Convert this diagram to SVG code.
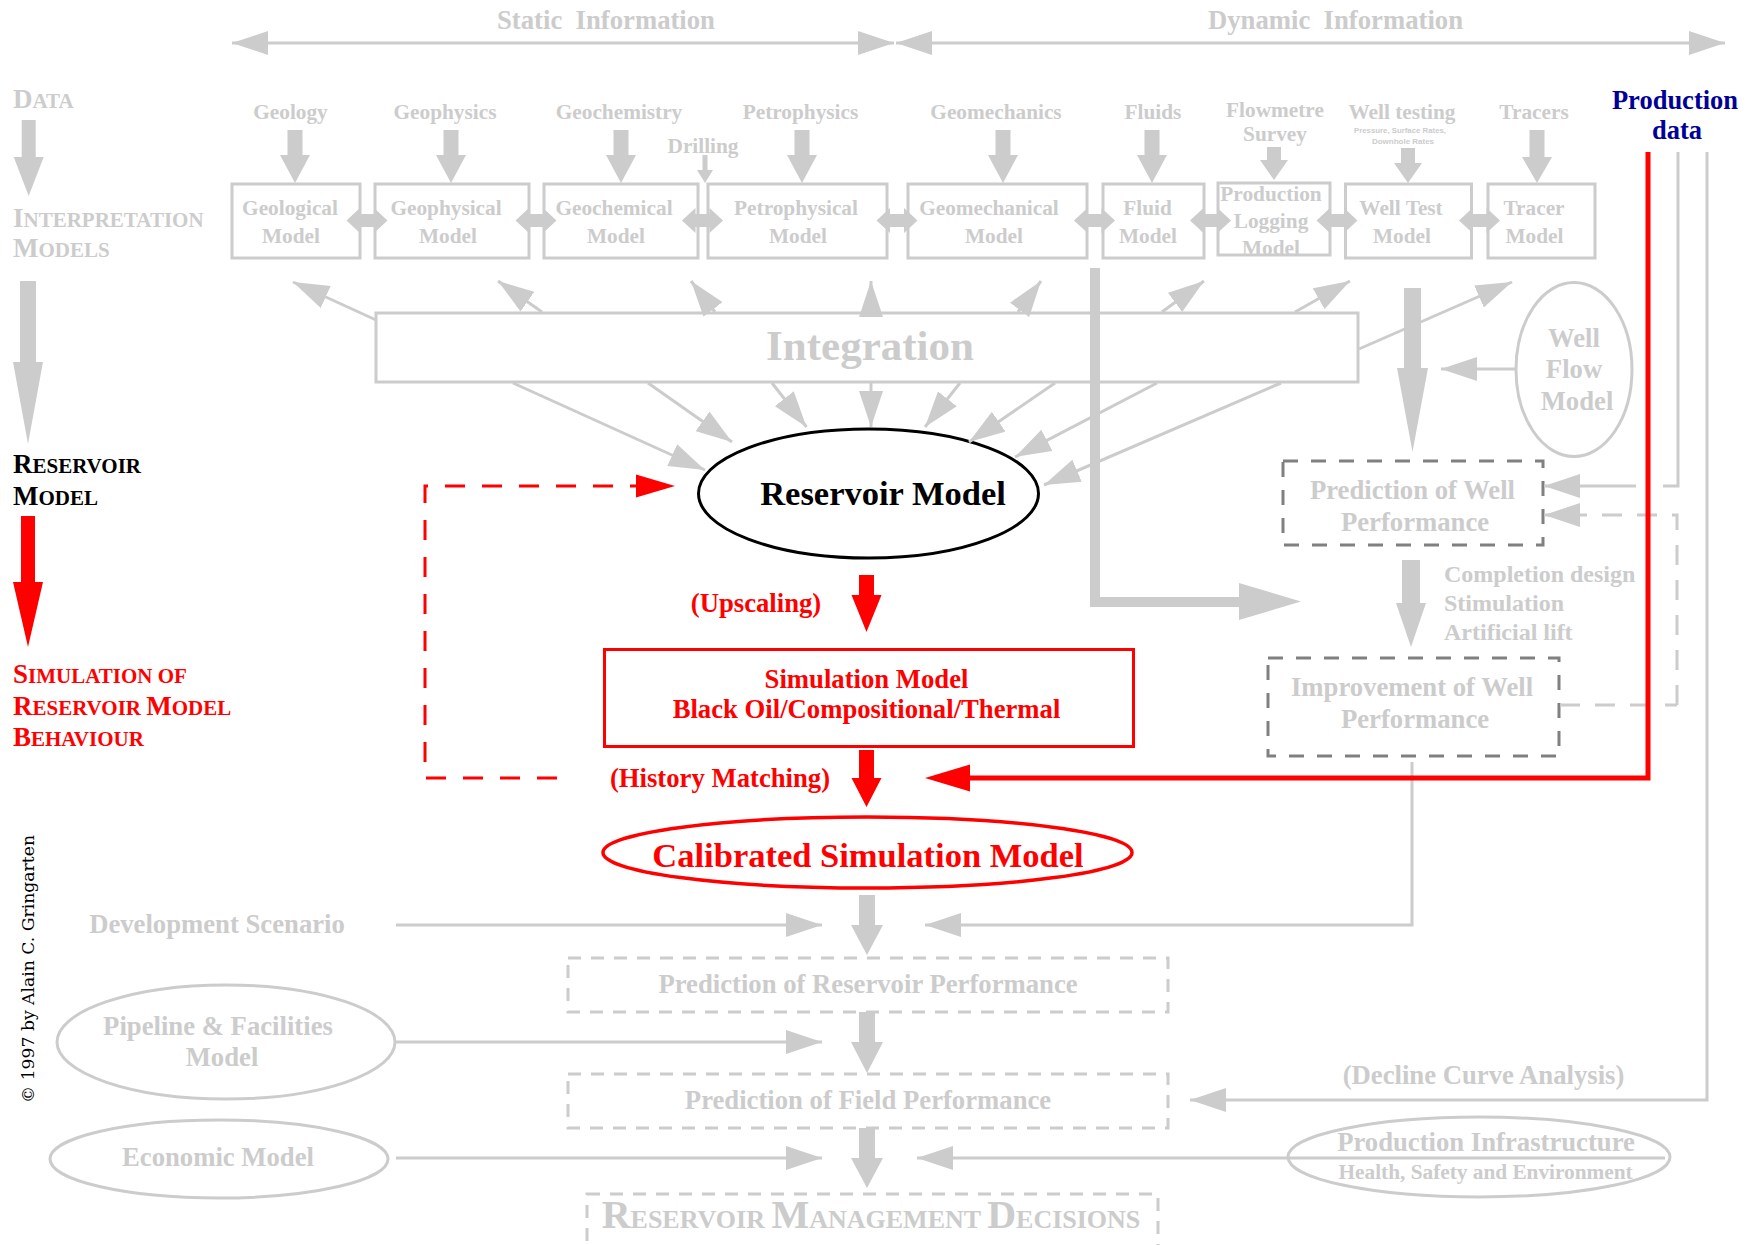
<svg xmlns="http://www.w3.org/2000/svg" width="1757" height="1245" viewBox="0 0 1757 1245">
<style>
  text { font-family: 'Liberation Serif', 'Times New Roman', serif; font-weight: bold; }
  .c { text-anchor: middle; }
  .g { fill: #cccccc; }
  .r { fill: #ff0000; }
  .k { fill: #000000; }
  .n { fill: #000099; }
  .s21 { font-size: 21.3px; }
  .s24 { font-size: 24px; }
  .s27 { font-size: 26.7px; }
  .s34 { font-size: 34.5px; }
  .box { fill: none; stroke: #cccccc; stroke-width: 3; }
  .dbox { fill: none; stroke: #808080; stroke-width: 3; stroke-dasharray: 15 13; }
  .lbox { fill: none; stroke: #cccccc; stroke-width: 3; stroke-dasharray: 13 10; }
  .ell { fill: none; stroke: #cccccc; stroke-width: 3; }
  .ln { fill: none; stroke: #cccccc; stroke-width: 3; }
  .arr { marker-end: url(#ag); }
  .dash { stroke-dasharray: 20 15; }
  .blk { fill: #cccccc; }
  .rblk { fill: #ff0000; }
</style>
<defs>
  <marker id="ag" markerUnits="userSpaceOnUse" viewBox="0 0 36 24" refX="36" refY="12" markerWidth="36" markerHeight="24" orient="auto-start-reverse">
    <path d="M0,0 L36,12 L0,24 Z" fill="#cccccc"/>
  </marker>
  <path id="dbl" d="M-20.5,0 L-7,-12.5 L-7,-6.5 L7,-6.5 L7,-12.5 L20.5,0 L7,12.5 L7,6.5 L-7,6.5 L-7,12.5 Z" fill="#cccccc"/>
</defs>

<rect width="1757" height="1245" fill="#ffffff"/>

<!-- header -->
<g id="static-info">
  <text class="c g s27" x="606" y="29" xml:space="preserve" style="white-space:pre">Static  Information</text>
</g>
<g id="dynamic-info">
  <text class="c g s27" x="1335.5" y="29" xml:space="preserve" style="white-space:pre">Dynamic  Information</text>
</g>

<!-- left column stages -->
<g id="stage-data">
  <text class="g" x="13" y="108"><tspan font-size="27">D</tspan><tspan font-size="21">ATA</tspan></text>
</g>
<g id="stage-interpretation">
  <text class="g" x="13" y="227"><tspan font-size="27">I</tspan><tspan font-size="21">NTERPRETATION</tspan></text>
  <text class="g" x="13" y="257"><tspan font-size="27">M</tspan><tspan font-size="21">ODELS</tspan></text>
</g>
<g id="stage-reservoir">
  <text class="k" x="13" y="473"><tspan font-size="27">R</tspan><tspan font-size="21">ESERVOIR</tspan></text>
  <text class="k" x="13" y="505"><tspan font-size="27">M</tspan><tspan font-size="21">ODEL</tspan></text>
</g>
<g id="stage-simulation">
  <text class="r" x="13" y="683"><tspan font-size="27">S</tspan><tspan font-size="21">IMULATION OF</tspan></text>
  <text class="r" x="13" y="714.5"><tspan font-size="27">R</tspan><tspan font-size="21">ESERVOIR </tspan><tspan font-size="27">M</tspan><tspan font-size="21">ODEL</tspan></text>
  <text class="r" x="13" y="746"><tspan font-size="27">B</tspan><tspan font-size="21">EHAVIOUR</tspan></text>
</g>
<g id="copyright">
  <text transform="translate(34,1103) rotate(-90)" style="font-family:'DejaVu Serif','Liberation Serif',serif;font-weight:normal;font-size:17px" fill="#000000" textLength="268" lengthAdjust="spacingAndGlyphs">© 1997 by Alain C. Gringarten</text>
</g>

<!-- data sources -->
<g id="data-geology"><text class="c g s21" x="290.5" y="119">Geology</text></g>
<g id="data-geophysics"><text class="c g s21" x="445" y="119">Geophysics</text></g>
<g id="data-geochemistry"><text class="c g s21" x="619" y="119">Geochemistry</text></g>
<g id="data-drilling"><text class="c g s21" x="703" y="152.5">Drilling</text></g>
<g id="data-petrophysics"><text class="c g s21" x="800.5" y="119">Petrophysics</text></g>
<g id="data-geomechanics"><text class="c g s21" x="996" y="119">Geomechanics</text></g>
<g id="data-fluids"><text class="c g s21" x="1153" y="119">Fluids</text></g>
<g id="data-flowmetre">
  <text class="c g s21" x="1275" y="116.5">Flowmetre</text>
  <text class="c g s21" x="1275" y="141">Survey</text>
</g>
<g id="data-well-testing">
  <text class="c g s21" x="1402" y="119">Well testing</text>
  <text class="c g" x="1400" y="133" style="font-family:'Liberation Sans',sans-serif;font-size:8px" textLength="92" lengthAdjust="spacingAndGlyphs">Pressure, Surface Rates,</text>
  <text class="c g" x="1403" y="143.5" style="font-family:'Liberation Sans',sans-serif;font-size:8px" textLength="62" lengthAdjust="spacingAndGlyphs">Downhole Rates</text>
</g>
<g id="data-tracers"><text class="c g s21" x="1534" y="119">Tracers</text></g>
<g id="production-data">
  <text class="c n" x="1675" y="109.3" font-size="26.5">Production</text>
  <text class="c n" x="1677" y="139" font-size="26.5">data</text>
</g>

<!-- interpretation models -->
<g id="geological-model">
  <rect class="box" x="232" y="184" width="128" height="74"/>
  <text class="c g s21" x="290" y="215">Geological</text>
  <text class="c g s21" x="291" y="242.7">Model</text>
</g>
<g id="geophysical-model">
  <rect class="box" x="375" y="184" width="154" height="74"/>
  <text class="c g s21" x="446" y="215">Geophysical</text>
  <text class="c g s21" x="448" y="242.7">Model</text>
</g>
<g id="geochemical-model">
  <rect class="box" x="544" y="184" width="154" height="74"/>
  <text class="c g s21" x="614" y="215">Geochemical</text>
  <text class="c g s21" x="616" y="242.7">Model</text>
</g>
<g id="petrophysical-model">
  <rect class="box" x="708" y="184" width="179" height="74"/>
  <text class="c g s21" x="796" y="215">Petrophysical</text>
  <text class="c g s21" x="798" y="242.7">Model</text>
</g>
<g id="geomechanical-model">
  <rect class="box" x="908" y="184" width="179" height="74"/>
  <text class="c g s21" x="989" y="215">Geomechanical</text>
  <text class="c g s21" x="994" y="242.7">Model</text>
</g>
<g id="fluid-model">
  <rect class="box" x="1103" y="184" width="101" height="74"/>
  <text class="c g s21" x="1147.5" y="215">Fluid</text>
  <text class="c g s21" x="1148" y="242.7">Model</text>
</g>
<g id="production-logging-model">
  <rect class="box" x="1218" y="183" width="112" height="72"/>
  <text class="c g s21" x="1271" y="201">Production</text>
  <text class="c g s21" x="1271" y="227.5">Logging</text>
  <text class="c g s21" x="1271" y="255">Model</text>
</g>
<g id="well-test-model">
  <rect class="box" x="1345.5" y="184" width="126" height="74"/>
  <text class="c g s21" x="1401" y="215">Well Test</text>
  <text class="c g s21" x="1402" y="242.7">Model</text>
</g>
<g id="tracer-model">
  <rect class="box" x="1488" y="184" width="107" height="74"/>
  <text class="c g s21" x="1534" y="215">Tracer</text>
  <text class="c g s21" x="1534.5" y="242.7">Model</text>
</g>

<!-- integration and reservoir model -->
<g id="integration">
  <rect class="box" x="376" y="313" width="982" height="69" fill="none"/>
  <text class="c g" x="870" y="360" font-size="43">Integration</text>
</g>
<g id="well-flow-model">
  <ellipse class="ell" cx="1574" cy="369.5" rx="58" ry="87"/>
  <text class="c g s27" x="1574" y="347">Well</text>
  <text class="c g s27" x="1574" y="378">Flow</text>
  <text class="c g s27" x="1577" y="409.5">Model</text>
</g>
<g id="reservoir-model">
  <ellipse cx="868.5" cy="493.5" rx="170" ry="64.5" fill="#ffffff" stroke="#000000" stroke-width="3"/>
  <text class="c k s34" x="883" y="505">Reservoir Model</text>
</g>
<g id="prediction-well">
  <rect class="dbox" x="1283" y="461" width="260" height="84"/>
  <text class="c g s27" x="1412.5" y="499.3">Prediction of Well</text>
  <text class="c g s27" x="1415" y="530.7">Performance</text>
</g>
<g id="well-actions">
  <text class="g s24" x="1444" y="582">Completion design</text>
  <text class="g s24" x="1444" y="611">Stimulation</text>
  <text class="g s24" x="1444" y="640">Artificial lift</text>
</g>
<g id="improvement-well">
  <rect class="dbox" x="1268" y="658" width="291" height="98"/>
  <text class="c g s27" x="1412" y="696">Improvement of Well</text>
  <text class="c g s27" x="1415" y="728">Performance</text>
</g>

<!-- simulation -->
<g id="upscaling-label"><text class="c r s27" x="756" y="611.7">(Upscaling)</text></g>
<g id="simulation-model">
  <rect x="604.5" y="649.5" width="529" height="97" fill="none" stroke="#ff0000" stroke-width="3"/>
  <text class="c r s27" x="866.5" y="688">Simulation Model</text>
  <text class="c r s27" x="866.5" y="718">Black Oil/Compositional/Thermal</text>
</g>
<g id="history-label"><text class="c r s27" x="720" y="787">(History Matching)</text></g>
<g id="calibrated-model">
  <ellipse cx="867.5" cy="852.5" rx="264.5" ry="35.5" fill="none" stroke="#ff0000" stroke-width="3.5"/>
  <text class="c r s34" x="868" y="867">Calibrated Simulation Model</text>
</g>

<!-- forecasting chain -->
<g id="development-scenario"><text class="c g s27" x="217" y="933">Development Scenario</text></g>
<g id="prediction-reservoir">
  <rect class="lbox" x="568" y="958" width="600" height="54"/>
  <text class="c g s27" x="868" y="992.7">Prediction of Reservoir Performance</text>
</g>
<g id="pipeline-facilities">
  <ellipse class="ell" cx="226" cy="1042" rx="169" ry="57"/>
  <text class="c g s27" x="218" y="1034.5">Pipeline &amp; Facilities</text>
  <text class="c g s27" x="222" y="1066">Model</text>
</g>
<g id="prediction-field">
  <rect class="lbox" x="568" y="1074" width="600" height="54"/>
  <text class="c g s27" x="868" y="1109.4">Prediction of Field Performance</text>
</g>
<g id="decline-label"><text class="c g s27" x="1483.5" y="1084">(Decline Curve Analysis)</text></g>
<g id="economic-model">
  <ellipse class="ell" cx="219" cy="1159" rx="169" ry="39"/>
  <text class="c g s27" x="218" y="1166">Economic Model</text>
</g>
<g id="production-infrastructure">
  <ellipse class="ell" cx="1479" cy="1157" rx="191" ry="40"/>
  <text class="c g s27" x="1486" y="1151">Production Infrastructure</text>
  <text class="c g s21" x="1485.6" y="1179">Health, Safety and Environment</text>
</g>
<g id="management-decisions">
  <rect class="lbox" x="587" y="1194" width="571" height="62"/>
  <text class="c g" x="871" y="1228"><tspan font-size="40">R</tspan><tspan font-size="26">ESERVOIR </tspan><tspan font-size="40">M</tspan><tspan font-size="26">ANAGEMENT </tspan><tspan font-size="40">D</tspan><tspan font-size="26">ECISIONS</tspan></text>
</g>

<!-- connectors -->
<g id="connectors">
  <!-- information span arrows -->
  <path class="ln" d="M232,43 H894" marker-start="url(#ag)" marker-end="url(#ag)"/>
  <path class="ln" d="M896,43 H1725" marker-start="url(#ag)" marker-end="url(#ag)"/>

  <!-- stage arrows, left column -->
  <polygon class="blk" points="21.7,120 35.7,120 35.7,157 43.7,157 28.7,196 13.7,157 21.7,157"/>
  <polygon class="blk" points="20,281 36,281 36,362 43,362 28,444 13,362 20,362"/>
  <polygon class="rblk" points="21,516 35,516 35,582 43,582 28,647 13,582 21,582"/>

  <!-- data to models -->
  <polygon class="blk" points="287.5,130 302.5,130 302.5,155 310,155 295,183 280,155 287.5,155"/>
  <polygon class="blk" points="443.5,130 458.5,130 458.5,155 466,155 451,183 436,155 443.5,155"/>
  <polygon class="blk" points="613.5,130 628.5,130 628.5,155 636,155 621,183 606,155 613.5,155"/>
  <polygon class="blk" points="702.5,155 707.5,155 707.5,170 713,170 705,183 697,170 702.5,170"/>
  <polygon class="blk" points="794.5,130 809.5,130 809.5,155 817,155 802,183 787,155 794.5,155"/>
  <polygon class="blk" points="995.5,130 1010.5,130 1010.5,155 1018,155 1003,183 988,155 995.5,155"/>
  <polygon class="blk" points="1144.5,130 1159.5,130 1159.5,155 1167,155 1152,183 1137,155 1144.5,155"/>
  <polygon class="blk" points="1267,147 1281,147 1281,160 1288,160 1274,180 1260,160 1267,160"/>
  <polygon class="blk" points="1401,148 1415,148 1415,163 1422,163 1408,183 1394,163 1401,163"/>
  <polygon class="blk" points="1529.5,130 1544.5,130 1544.5,157 1552,157 1537,183 1522,157 1529.5,157"/>

  <!-- links between interpretation models -->
  <use href="#dbl" x="367" y="220.5"/>
  <use href="#dbl" x="536" y="220.5"/>
  <use href="#dbl" x="702.5" y="220.5"/>
  <use href="#dbl" x="897" y="220.5"/>
  <use href="#dbl" x="1094.5" y="220.5"/>
  <use href="#dbl" x="1210.5" y="220.5"/>
  <use href="#dbl" x="1337" y="220.5"/>
  <use href="#dbl" x="1479.5" y="220.5"/>

  <!-- integration feedback up to models -->
  <path class="ln arr" d="M376,320 L293,282"/>
  <path class="ln arr" d="M542,312 L498,281"/>
  <path class="ln arr" d="M715,312 L691,281"/>
  <path class="ln arr" d="M871,313 L871,281"/>
  <path class="ln arr" d="M1018,312 L1041,281"/>
  <path class="ln arr" d="M1162,312 L1204,281"/>
  <path class="ln arr" d="M1295,312 L1350,281"/>
  <path class="ln arr" d="M1359,349 L1512,282"/>

  <!-- integration down to reservoir model -->
  <path class="ln arr" d="M513,383 L705,470"/>
  <path class="ln arr" d="M648,383 L732,442"/>
  <path class="ln arr" d="M772,383 L806.5,427"/>
  <path class="ln arr" d="M871,383 L871,427"/>
  <path class="ln arr" d="M960,383 L925,427"/>
  <path class="ln arr" d="M1055,383 L969,442"/>
  <path class="ln arr" d="M1157,383 L1015,457"/>
  <path class="ln arr" d="M1281,383 L1044,485"/>

  <!-- dynamic data to well performance -->
  <path d="M1095,268 V602 H1240" fill="none" stroke="#cccccc" stroke-width="10"/>
  <polygon class="blk" points="1239,583 1301,601.5 1239,620"/>
  <polygon class="blk" points="1404,288 1421,288 1421,368 1428,368 1412.5,452 1397,368 1404,368"/>
  <path class="ln arr" d="M1516,369 H1441"/>
  <polygon class="blk" points="1402,560 1420,560 1420,603 1426,603 1411,647 1396,603 1402,603"/>

  <!-- production data lines -->
  <path class="ln arr" d="M1678,152 V486 H1663 M1636,486 H1544"/>
  <path class="ln dash" d="M1560,705 H1677" stroke="#8c8c8c"/>
  <path class="ln dash arr" d="M1677,705 V515 H1544"/>
  <path class="ln arr" d="M1707,152 V1100 H1190"/>
  <path class="ln arr" d="M1412,762 V925 H925"/>

  <!-- history matching feedback -->
  <path d="M557,778 H425 V486 H636" fill="none" stroke="#ff0000" stroke-width="3" stroke-dasharray="20 17"/>
  <polygon class="rblk" points="636,474.5 675,486 636,497.5"/>
  <path d="M1648,152 V778 H968" fill="none" stroke="#ff0000" stroke-width="5"/>
  <polygon class="rblk" points="970,764.5 925,778 970,791.5"/>

  <!-- simulation chain -->
  <polygon class="rblk" points="859,575 874,575 874,595 881.5,595 866.5,632 851.5,595 859,595"/>
  <polygon class="rblk" points="859,750 874,750 874,778 881.5,778 866.5,807 851.5,778 859,778"/>

  <!-- forecasting chain -->
  <polygon class="blk" points="859,895 875,895 875,925 883,925 867,955 851,925 859,925"/>
  <polygon class="blk" points="859,1012 875,1012 875,1042 883,1042 867,1073 851,1042 859,1042"/>
  <polygon class="blk" points="859,1128 875,1128 875,1158 883,1158 867,1188 851,1158 859,1158"/>
  <path class="ln arr" d="M396,925 H822"/>
  <path class="ln arr" d="M395,1042 H822"/>
  <path class="ln arr" d="M396,1158 H822"/>
  <path class="ln arr" d="M1665,1158 H917"/>
</g>
</svg>
